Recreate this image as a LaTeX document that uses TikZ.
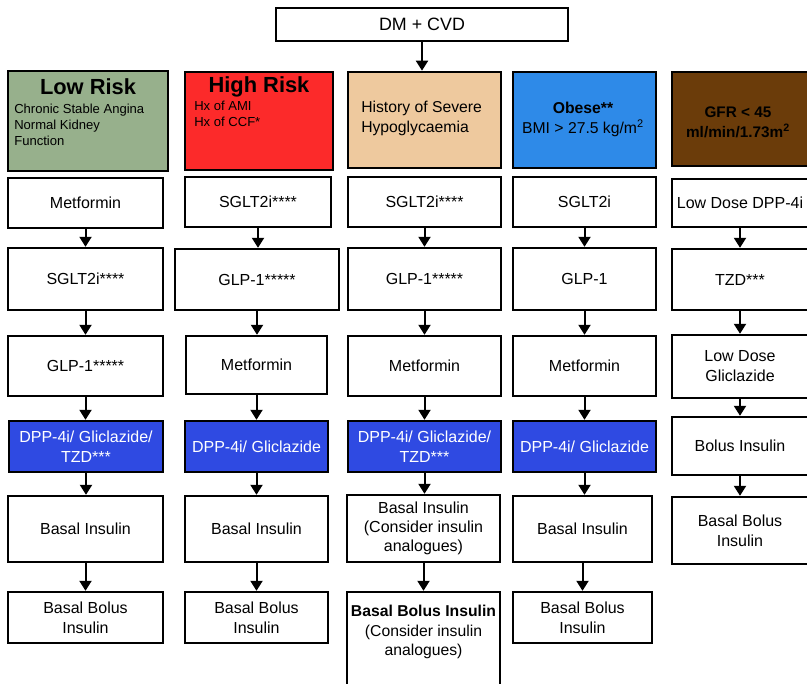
\documentclass[tikz,border=0pt]{standalone}
\usepackage{fontspec}
\setmainfont{Liberation Sans}
\usetikzlibrary{arrows.meta}
\definecolor{lowgreen}{RGB}{151,176,140}
\definecolor{highred}{RGB}{252,42,42}
\definecolor{hypotan}{RGB}{238,201,158}
\definecolor{obeseblue}{RGB}{46,138,232}
\definecolor{gfrbrown}{RGB}{107,60,10}
\definecolor{drugblue}{RGB}{47,74,226}
\newcommand\bx[7]{\node[#6, minimum width={(#4-#2)*0.75pt}, minimum height={(#5-#3)*0.75pt}] (#1) at ({(#2+#4)/2},{(#3+#5)/2}) {#7};}
\begin{document}
\begin{tikzpicture}[x=0.75pt,y=-0.75pt,
  box/.style={draw=black, line width=1.8pt, fill=white, inner sep=1pt, align=center,
    font=\fontsize{12}{15}\selectfont},
  drug/.style={box, fill=drugblue, text=white},
  hdr/.style={draw=black, line width=2pt, inner sep=0pt},
  arr/.style={line width=1.5pt, -{Triangle[width=9pt,length=7.5pt]}},
  bigtitle/.style={font=\fontsize{16.4}{19}\selectfont\bfseries, inner sep=0pt},
  small/.style={font=\fontsize{9.8}{12}\selectfont, align=left, inner sep=0pt},
  hdrtxt/.style={font=\fontsize{11.8}{15}\selectfont, inner sep=0pt}]
\fill[white] (0,0) rectangle (807,683);
\useasboundingbox (0,0) rectangle (807,683);
% top
\bx{dm}{276}{8}{568}{41}{box, font=\fontsize{13.4}{16}\selectfont}{DM + CVD}
% headers
\bx{h1}{8}{71}{168}{171}{hdr, fill=lowgreen}{}
\bx{h2}{185}{72}{333}{170}{hdr, fill=highred}{}
\bx{h3}{348}{72}{501}{168}{hdr, fill=hypotan}{}
\bx{h4}{513}{72}{656}{168}{hdr, fill=obeseblue}{}
\bx{h5}{672}{72}{815}{166}{hdr, fill=gfrbrown}{}
\node[bigtitle] (t1) at (88,87) {Low Risk};
\node[small, anchor=west] (s1) at (14,125) {Chronic Stable Angina\\Normal Kidney\\Function};
\node[bigtitle] (t2) at (259,87) {High Risk};
\node[small, anchor=west] (s2) at (194,114) {Hx of AMI\\Hx of CCF*};
\node[hdrtxt, anchor=west, align=left] (t3) at (361,118.5) {History of Severe\\Hypoglycaemia};
\node[hdrtxt, align=center] (t4) at (583,119.5) {\textbf{Obese**}\\BMI > 27.5 kg/m\textsuperscript{2}};
\node[hdrtxt, align=center, font=\fontsize{11.5}{15}\selectfont\bfseries] (t5) at (738,122) {GFR < 45\\ml/min/1.73m\textsuperscript{2}};
% column 1
\bx{a1}{8}{178}{163}{228}{box}{Metformin}
\bx{a2}{8}{248}{163}{310}{box}{SGLT2i****}
\bx{a3}{8}{336}{163}{396}{box}{GLP-1*****}
\bx{a4}{9}{421}{163}{472}{drug}{DPP-4i/ Gliclazide/\\TZD***}
\bx{a5}{8}{496}{163}{562}{box}{Basal Insulin}
\bx{a6}{8}{592}{163}{643}{box}{Basal Bolus\\Insulin}
% column 2
\bx{b1}{185}{177}{331}{227}{box}{SGLT2i****}
\bx{b2}{175}{249}{339}{310}{box}{GLP-1*****}
\bx{b3}{186}{336}{327}{394}{box}{Metformin}
\bx{b4}{185}{421}{328}{472}{drug}{DPP-4i/ Gliclazide}
\bx{b5}{185}{496}{328}{562}{box}{Basal Insulin}
\bx{b6}{185}{592}{328}{643}{box}{Basal Bolus\\Insulin}
% column 3
\bx{c1}{348}{177}{501}{227}{box}{SGLT2i****}
\bx{c2}{348}{248}{501}{310}{box}{GLP-1*****}
\bx{c3}{348}{336}{501}{396}{box}{Metformin}
\bx{c4}{348}{421}{501}{472}{drug}{DPP-4i/ Gliclazide/\\TZD***}
\bx{c5}{347}{495}{500}{562}{box, font=\fontsize{12}{14.5}\selectfont}{Basal Insulin\\(Consider insulin\\analogues)}
\bx{c6}{347}{592}{500}{720}{box}{}
\node[align=center, inner sep=0pt, font=\fontsize{11.8}{14.5}\selectfont] (c6t) at (423.5,632) {\textbf{Basal Bolus Insulin}\\(Consider insulin\\analogues)};
% column 4
\bx{d1}{513}{177}{656}{227}{box}{SGLT2i}
\bx{d2}{513}{248}{656}{310}{box}{GLP-1}
\bx{d3}{513}{336}{656}{396}{box}{Metformin}
\bx{d4}{513}{421}{656}{472}{drug}{DPP-4i/ Gliclazide}
\bx{d5}{513}{496}{652}{562}{box}{Basal Insulin}
\bx{d6}{513}{592}{652}{643}{box}{Basal Bolus\\Insulin}
% column 5
\bx{e1}{672}{179}{808}{227}{box}{Low Dose DPP-4i}
\bx{e2}{672}{249}{808}{310}{box}{TZD***}
\bx{e3}{672}{335}{808}{398}{box}{Low Dose\\Gliclazide}
\bx{e4}{672}{417}{808}{475}{box}{Bolus Insulin}
\bx{e5}{672}{497}{808}{564}{box}{Basal Bolus\\Insulin}
% arrows
\draw[arr] (dm.south) -- (dm.south |- h3.north);
\foreach \p/\q in {a1/a2,a2/a3,a3/a4,a4/a5,a5/a6,
                   b1/b2,b2/b3,b3/b4,b4/b5,b5/b6,
                   c1/c2,c2/c3,c3/c4,c4/c5,c5/c6,
                   d1/d2,d2/d3,d3/d4,d4/d5,d5/d6,
                   e1/e2,e2/e3,e3/e4,e4/e5}
  \draw[arr] (\p.south) -- (\p.south |- \q.north);
\end{tikzpicture}
\end{document}
